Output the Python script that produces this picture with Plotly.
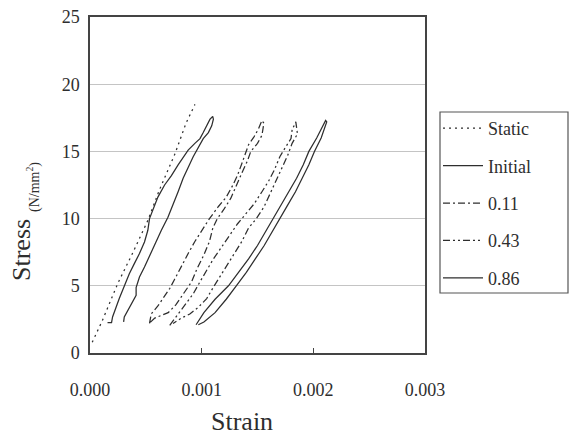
import plotly.graph_objects as go

# ---- data ----
static_strain = [0.00002, 0.00011, 0.00025, 0.00038, 0.00052, 0.00062, 0.00076, 0.00086, 0.00094]
static_stress = [0.8, 2.4, 5.2, 7.4, 9.9, 12.1, 14.8, 17.1, 18.5]

initial_strain = [0.000157, 0.000193, 0.000202, 0.000232, 0.000262, 0.000292, 0.000322, 0.000352,
                  0.000397, 0.000443, 0.000488, 0.000518, 0.000533, 0.000563, 0.000608, 0.000668,
                  0.000729, 0.000789, 0.000834, 0.000879, 0.000939, 0.000985, 0.001014, 0.001045,
                  0.001075, 0.001099, 0.001105, 0.00109, 0.00106, 0.001014, 0.000969, 0.000924,
                  0.000879, 0.000834, 0.000789, 0.000743, 0.000698, 0.000639, 0.000593, 0.000548,
                  0.000488, 0.000443, 0.000413, 0.000413, 0.000382, 0.000337, 0.000307, 0.000301]
initial_stress = [2.26, 2.26, 2.68, 3.42, 4.05, 4.67, 5.28, 5.9,
                  6.65, 7.4, 8.26, 9.13, 10.0, 10.6, 11.6, 12.5,
                  13.2, 14.0, 14.6, 15.1, 15.6, 15.95, 16.4, 16.9,
                  17.4, 17.6, 17.4, 16.9, 16.4, 15.95, 15.3, 14.6,
                  13.8, 13.0, 12.0, 11.1, 10.1, 9.13, 8.26, 7.4,
                  6.4, 5.65, 4.87, 4.29, 3.8, 3.18, 2.68, 2.31]

c011_strain = [0.000533, 0.000548, 0.000608, 0.000668, 0.000714, 0.000759, 0.000819, 0.000879,
               0.000939, 0.001, 0.00107, 0.00115, 0.00122, 0.00128, 0.00132, 0.00136, 0.00139,
               0.00142, 0.00147, 0.00151, 0.00154, 0.001557, 0.00154, 0.0015, 0.00144, 0.00141,
               0.00136, 0.00131, 0.00126, 0.0012, 0.00114, 0.0011, 0.00107, 0.00102, 0.00096,
               0.00091, 0.00083, 0.00077, 0.0007, 0.00064, 0.00058, 0.00053]
c011_stress = [2.2, 2.9, 3.5, 4.2, 4.8, 5.5, 6.5, 7.4,
               8.3, 9.1, 10.0, 10.9, 11.6, 12.5, 13.2, 14.1, 14.8,
               15.5, 16.1, 16.7, 17.3, 17.1, 16.2, 15.6, 15.0, 14.3,
               13.4, 12.4, 11.5, 10.7, 10.0, 9.3, 8.3, 7.3, 6.3,
               5.3, 4.3, 3.6, 3.0, 2.8, 2.6, 2.2]

c043_strain = [0.000714, 0.000789, 0.000849, 0.000924, 0.000985, 0.001045, 0.001105, 0.00118,
               0.00125, 0.00132, 0.00139, 0.00147, 0.00154, 0.0016, 0.00165, 0.0017, 0.00175,
               0.0018, 0.00181, 0.001843, 0.001858, 0.00181, 0.00177, 0.00172, 0.00167, 0.00162,
               0.00156, 0.00149, 0.00142, 0.00136, 0.0013, 0.00124, 0.001165, 0.001105, 0.001045,
               0.00097, 0.000894, 0.000819, 0.000744]
c043_stress = [2.06, 2.9, 3.55, 4.4, 5.3, 6.15, 7.0, 7.9,
               8.8, 9.6, 10.3, 11.1, 12.0, 12.8, 13.6, 14.6, 15.3,
               15.95, 16.6, 17.2, 16.3, 15.6, 14.7, 13.8, 12.9, 11.9,
               10.9, 10.0, 9.3, 8.3, 7.5, 6.8, 5.8, 4.9, 4.05,
               3.4, 2.9, 2.6, 2.2]

c086_strain = [0.00095, 0.00102, 0.00112, 0.00124, 0.00133, 0.00142, 0.0015, 0.00157, 0.00164,
               0.00171, 0.00178, 0.00185, 0.00191, 0.00196, 0.00203, 0.00211, 0.00212, 0.00207,
               0.00201, 0.00196, 0.0019, 0.00184, 0.00177, 0.0017, 0.00163, 0.00156, 0.00148,
               0.0014, 0.00131, 0.00122, 0.00112, 0.00102, 0.00097]
c086_stress = [2.1, 3.0, 4.0, 5.0, 6.0, 7.0, 8.0, 9.0, 10.0,
               11.0, 12.0, 13.0, 14.0, 15.0, 16.0, 17.3, 17.2, 16.0,
               15.0, 14.0, 13.0, 12.0, 11.0, 10.0, 9.0, 8.0, 7.0,
               6.0, 5.0, 4.0, 3.0, 2.3, 2.1]

series_names = ["Static", "Initial", "0.11", "0.43", "0.86"]
x_tick_vals = [0, 0.001, 0.002, 0.003]
x_tick_text = ["0.000", "0.001", "0.002", "0.003"]

# ---- styling ----
FONT = "Liberation Serif, Times New Roman, serif"
INK = "#2e2e2e"
dashes = ["2px,4px", "solid", "7px,3px,2px,3px", "7px,3px,2px,3px,2px,3px", "solid"]
xs = [static_strain, initial_strain, c011_strain, c043_strain, c086_strain]
ys = [static_stress, initial_stress, c011_stress, c043_stress, c086_stress]

fig = go.Figure()
for name, x, y, d in zip(series_names, xs, ys, dashes):
    fig.add_trace(go.Scatter(x=x, y=y, mode="lines", name=name, legendgroup=name,
                             line=dict(color=INK, width=1.25, dash=d)))

W, H = 571, 438
L, R, T, B = 90, 146, 17, 85
pw, ph = W - L - R, H - T - B

def px(xp):
    return (xp - L) / pw

def py(yp):
    return (H - B - yp) / ph

fig.update_layout(
    width=W, height=H,
    margin=dict(l=L, r=R, t=T, b=B, autoexpand=False),
    paper_bgcolor="white", plot_bgcolor="white",
    font=dict(family=FONT, size=18, color=INK),
    showlegend=True,
    legend=dict(x=px(438), y=py(110), xanchor="left", yanchor="top",
                bgcolor="rgba(0,0,0,0)", borderwidth=0,
                font=dict(family=FONT, size=18, color=INK),
                tracegroupgap=11, itemwidth=40),
    xaxis=dict(range=[0, 0.003], tickvals=x_tick_vals, ticktext=x_tick_text,
               ticks="inside", ticklen=5, tickcolor="#444", tickwidth=1,
               showline=True, mirror=True, linecolor="#444", linewidth=1.5,
               showgrid=False, zeroline=False, ticklabelstandoff=20,
               tickfont=dict(size=18)),
    yaxis=dict(range=[0, 25], dtick=5, ticks="", showline=True, mirror=True,
               linecolor="#444", linewidth=1.5, showgrid=True, gridcolor="#c4c4c4",
               gridwidth=1, zeroline=False, ticklabelstandoff=5,
               tickfont=dict(size=18)),
    shapes=[dict(type="rect", xref="paper", yref="paper",
                 x0=px(440), x1=px(568), y0=py(293), y1=py(112),
                 line=dict(color="#555", width=1.2), fillcolor="rgba(0,0,0,0)")],
    annotations=[
        dict(text="Strain", xref="paper", yref="paper", x=px(242), y=py(421),
             xanchor="center", yanchor="middle", showarrow=False,
             font=dict(family=FONT, size=26, color=INK)),
        dict(text="Stress", xref="paper", yref="paper", x=px(21), y=py(250),
             xanchor="center", yanchor="middle", showarrow=False, textangle=-90,
             font=dict(family=FONT, size=26, color=INK)),
        dict(text="(N/mm<sup>2</sup>)", xref="paper", yref="paper", x=px(33), y=py(187),
             xanchor="center", yanchor="middle", showarrow=False, textangle=-90,
             font=dict(family=FONT, size=14, color=INK)),
    ],
)

fig.write_html("out.html", config={"displayModeBar": False},
               post_script="document.body.style.margin='0';document.body.style.padding='0';")
